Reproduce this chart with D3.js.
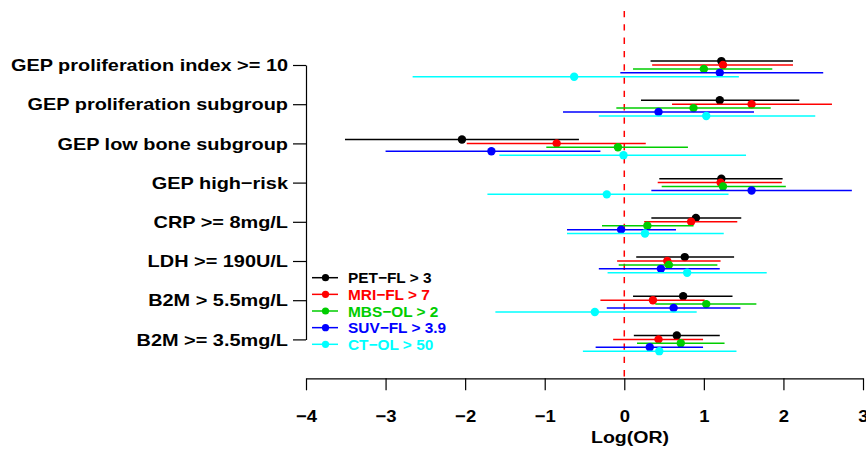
<!DOCTYPE html>
<html>
<head>
<meta charset="utf-8">
<script src="https://cdn.jsdelivr.net/npm/d3@7"></script>
<style>
  body { margin: 0; background: #fff; }
  svg { display: block; font-family: "Liberation Sans", Arial, sans-serif; font-weight: bold; }
</style>
</head>
<body>
<svg width="866" height="449"></svg>
<script>
// categories, top to bottom
var categories = [
  'GEP proliferation index >= 10',
  'GEP proliferation subgroup',
  'GEP low bone subgroup',
  'GEP high\u2212risk',
  'CRP >= 8mg/L',
  'LDH >= 190U/L',
  'B2M > 5.5mg/L',
  'B2M >= 3.5mg/L'
]

var seriesNames = ['PET\u2212FL > 3', 'MRI\u2212FL > 7', 'MBS\u2212OL > 2', 'SUV\u2212FL > 3.9', 'CT\u2212OL > 50']
var seriesColors = ['#000000', '#ff0000', '#00cd00', '#0000ff', '#00ffff']

// log(OR) estimates, one array per series
var petEst = [1.22, 1.20, -2.04, 1.22, 0.90, 0.76, 0.74, 0.66]
var mriEst = [1.24, 1.60, -0.85, 1.21, 0.84, 0.54, 0.36, 0.43]
var mbsEst = [1.00, 0.87, -0.08, 1.24, 0.29, 0.56, 1.03, 0.71]
var suvEst = [1.20, 0.43, -1.67, 1.60, -0.04, 0.46, 0.62, 0.32]
var ctEst = [-0.63, 1.03, -0.01, -0.22, 0.26, 0.79, -0.37, 0.44]

// lower confidence limits
var petLo = [0.33, 0.21, -3.51, 0.44, 0.34, 0.15, 0.11, 0.12]
var mriLo = [0.35, 0.60, -1.98, 0.42, 0.25, -0.09, -0.30, -0.14]
var mbsLo = [0.11, -0.10, -0.98, 0.47, -0.28, -0.07, 0.39, 0.16]
var suvLo = [-0.05, -0.77, -3.00, 0.34, -0.72, -0.32, -0.22, -0.36]
var ctLo = [-2.66, -0.32, -1.57, -1.72, -0.72, -0.21, -1.62, -0.52]

// upper confidence limits
var petHi = [2.12, 2.20, -0.57, 1.99, 1.47, 1.38, 1.36, 1.20]
var mriHi = [2.12, 2.61, 0.27, 1.98, 1.42, 1.21, 1.01, 0.99]
var mbsHi = [1.86, 1.84, 0.80, 2.03, 0.87, 1.17, 1.66, 1.26]
var suvHi = [2.50, 1.63, -0.30, 2.86, 0.65, 1.20, 1.46, 0.99]
var ctHi = [1.44, 2.40, 1.53, 1.31, 1.25, 1.79, 0.91, 1.41]

var xTicks = [-4, -3, -2, -1, 0, 1, 2, 3]

var estimates = [petEst, mriEst, mbsEst, suvEst, ctEst]
var lowers = [petLo, mriLo, mbsLo, suvLo, ctLo]
var uppers = [petHi, mriHi, mbsHi, suvHi, ctHi]
var offsets = [-0.1, 0, 0.1, 0.2, 0.3]

var svg = d3.select('svg')

var x = d3.scaleLinear().domain([-4, 3]).range([306, 863])
var y = d3.scaleLinear().domain([0, categories.length - 1]).range([65, 339.4])

// reference line at 0
svg.append('line')
  .attr('x1', x(0)).attr('x2', x(0))
  .attr('y1', 11).attr('y2', 378)
  .attr('stroke', '#ff0000')
  .attr('stroke-width', 1.5)
  .attr('stroke-dasharray', '6.3,7')

// x axis
var xAxis = svg.append('g')
  .attr('transform', 'translate(0,378.3)')
  .call(d3.axisBottom(x).tickValues(xTicks).tickSize(12).tickSizeOuter(0).tickFormat(d3.format('d')))
xAxis.select('.domain').attr('stroke', '#000').attr('stroke-width', 1.2)
xAxis.selectAll('.tick line').attr('stroke', '#000').attr('stroke-width', 1.2)
xAxis.selectAll('.tick text').remove()
xAxis.selectAll('.tick').append('g')
  .attr('transform', 'translate(0,43.2) scale(1.1,1)')
  .append('text')
  .attr('text-anchor', 'middle')
  .attr('font-size', 16.8)
  .attr('font-family', '"Liberation Sans", Arial, sans-serif')
  .attr('font-weight', 'bold')
  .attr('fill', '#000')
  .text(function (d) { return d3.format('d')(d) })

svg.append('g')
  .attr('transform', 'translate(630,442.7) scale(1.15,1)')
  .append('text')
  .attr('text-anchor', 'middle')
  .attr('font-size', 17)
  .text('Log(OR)')

// y axis
var yAxis = svg.append('g')
  .attr('transform', 'translate(306,0)')
  .call(d3.axisLeft(y).tickValues(d3.range(categories.length)).tickSize(13).tickSizeOuter(0).tickFormat(''))
yAxis.select('.domain').attr('stroke', '#000').attr('stroke-width', 1.2)
yAxis.selectAll('.tick line').attr('stroke', '#000').attr('stroke-width', 1.2)

svg.append('g').selectAll('g')
  .data(categories)
  .join('g')
  .attr('transform', function (d, i) { return 'translate(288,' + (y(i) + 6.1) + ') scale(1.17,1)' })
  .append('text')
  .attr('text-anchor', 'end')
  .attr('font-size', 17)
  .text(function (d) { return d })

// error bars and points, series by series
estimates.forEach(function (est, s) {
  var g = svg.append('g').attr('class', 'series' + s)
  var rows = est.map(function (v, i) {
    return { est: v, lo: lowers[s][i], hi: uppers[s][i], pos: i + offsets[s] }
  })
  g.selectAll('line')
    .data(rows)
    .join('line')
    .attr('x1', function (d) { return x(d.lo) })
    .attr('x2', function (d) { return x(d.hi) })
    .attr('y1', function (d) { return y(d.pos) })
    .attr('y2', function (d) { return y(d.pos) })
    .attr('stroke', seriesColors[s])
    .attr('stroke-width', 1.5)
  g.selectAll('circle')
    .data(rows)
    .join('circle')
    .attr('cx', function (d) { return x(d.est) })
    .attr('cy', function (d) { return y(d.pos) })
    .attr('r', 4.2)
    .attr('fill', seriesColors[s])
})

// legend
var legend = svg.append('g').attr('transform', 'translate(312,277.7)')
var items = legend.selectAll('g')
  .data(seriesNames)
  .join('g')
  .attr('transform', function (d, i) { return 'translate(0,' + (i * 16.65) + ')' })
items.append('line')
  .attr('x1', 0).attr('x2', 26)
  .attr('stroke', function (d, i) { return seriesColors[i] })
  .attr('stroke-width', 1.5)
items.append('circle')
  .attr('cx', 13.5)
  .attr('r', 3.6)
  .attr('fill', function (d, i) { return seriesColors[i] })
items.append('text')
  .attr('x', 36)
  .attr('y', 5.5)
  .attr('font-size', 15.4)
  .attr('fill', function (d, i) { return seriesColors[i] })
  .text(function (d) { return d })
</script>
</body>
</html>
